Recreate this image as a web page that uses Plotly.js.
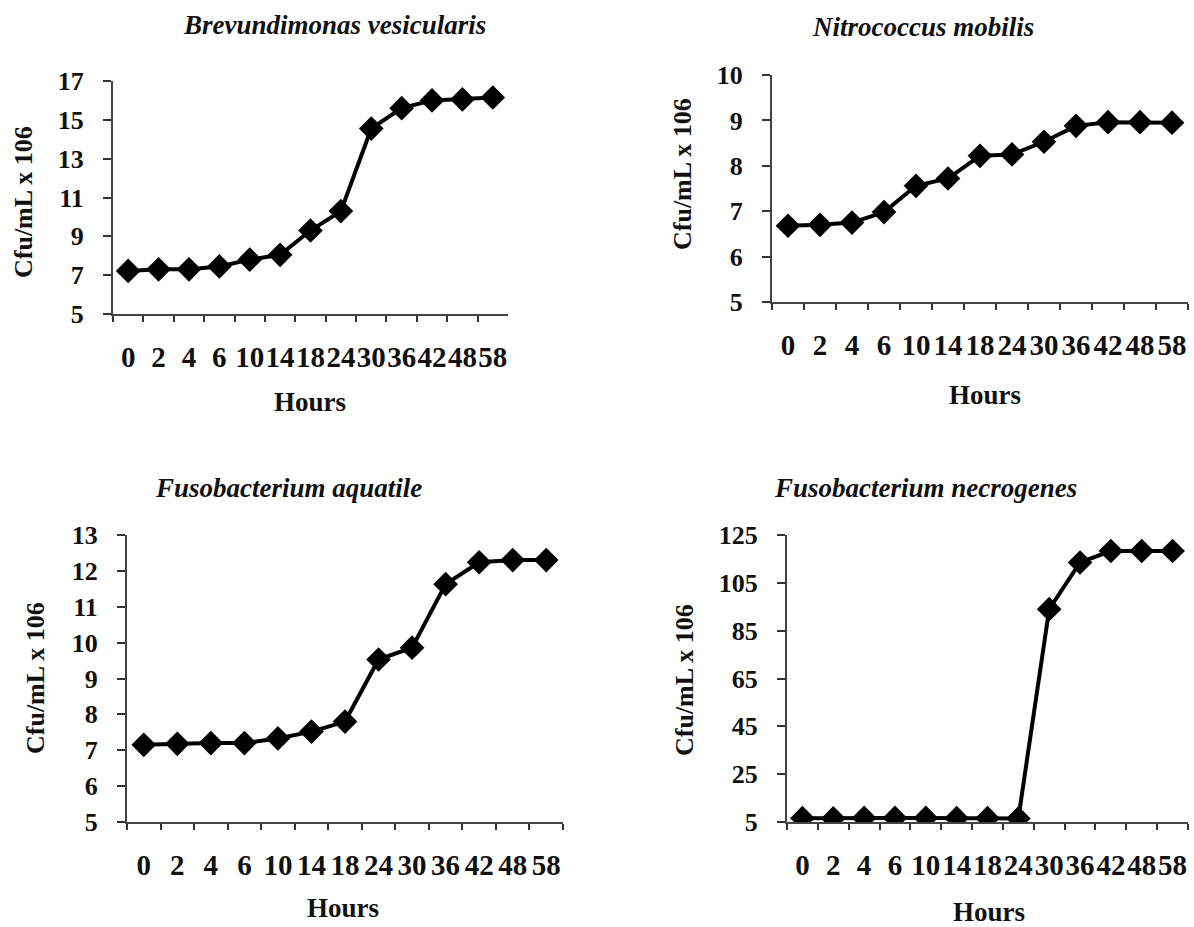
<!DOCTYPE html>
<html>
<head>
<meta charset="utf-8">
<script src="https://cdn.plot.ly/plotly-3.0.1.min.js"></script>
<style>
  html, body { margin: 0; padding: 0; background: #ffffff; }
  #chart { width: 1194px; height: 927px; }
</style>
</head>
<body>
<div id="chart"></div>
<script>
// ---- data ----
const hours = ['0', '2', '4', '6', '10', '14', '18', '24', '30', '36', '42', '48', '58'];
const brevundimonas = [7.22, 7.3, 7.3, 7.45, 7.8, 8.05, 9.3, 10.3, 14.55, 15.6, 16.0, 16.05, 16.15];
const nitrococcus = [6.68, 6.7, 6.75, 6.98, 7.56, 7.72, 8.22, 8.25, 8.53, 8.88, 8.96, 8.96, 8.95];
const aquatile = [7.15, 7.18, 7.2, 7.2, 7.33, 7.52, 7.8, 9.53, 9.86, 11.63, 12.24, 12.3, 12.3];
const necrogenes = [6.6, 6.5, 6.7, 6.7, 6.7, 6.6, 6.6, 6.5, 94, 113.5, 118.3, 118.3, 118.3];
const panelTitles = ['Brevundimonas vesicularis', 'Nitrococcus mobilis', 'Fusobacterium aquatile', 'Fusobacterium necrogenes'];
const yTitle = 'Cfu/mL x 106';
const xTitle = 'Hours';

const W = 1194, H = 927;
const serif = 'Liberation Serif, Times New Roman, serif';
const px = v => v / W;
const py = v => 1 - v / H;

function trace(y, xa, ya) {
  return {
    x: hours, y: y, xaxis: xa, yaxis: ya, type: 'scatter', mode: 'lines+markers',
    line: {color: '#000000', width: 4},
    marker: {symbol: 'diamond', size: 19, color: '#000000'},
    showlegend: false, hoverinfo: 'x+y'
  };
}

function xaxis(l, r, anchor) {
  return {
    domain: [px(l), px(r)], anchor: anchor, type: 'category',
    range: [-0.5, 12.5], tickson: 'boundaries', ticks: 'outside', ticklen: 6, tickwidth: 2,
    tickmode: 'array', tickvals: hours, ticktext: hours, tickangle: 0,
    tickcolor: '#333', showline: true, linecolor: '#444', linewidth: 2,
    showgrid: false, zeroline: false, ticklabelstandoff: 16,
    tickfont: {family: serif, size: 29, color: '#111', weight: 'bold'},
    fixedrange: true
  };
}
function yaxis(t, b, anchor, lo, hi, dt) {
  return {
    domain: [py(b), py(t)], anchor: anchor, range: [lo, hi], dtick: dt, tick0: lo,
    ticks: 'outside', ticklen: 8, tickwidth: 2, tickcolor: '#333',
    showline: true, linecolor: '#444', linewidth: 2, showgrid: false, zeroline: false,
    ticklabelstandoff: 14,
    tickfont: {family: serif, size: 26, color: '#111', weight: 'bold'},
    fixedrange: true
  };
}

function ann(text, x, y, size, italic, angle) {
  return {
    text: text, xref: 'paper', yref: 'paper', x: px(x), y: py(y),
    xanchor: 'center', yanchor: 'middle', showarrow: false, textangle: angle || 0,
    font: {family: serif, size: size, color: '#111', weight: 'bold', style: italic ? 'italic' : 'normal'}
  };
}

const data = [
  trace(brevundimonas, 'x', 'y'),
  trace(nitrococcus, 'x2', 'y2'),
  trace(aquatile, 'x3', 'y3'),
  trace(necrogenes, 'x4', 'y4')
];

const layout = {
  width: W, height: H, margin: {l: 0, r: 0, t: 0, b: 0},
  paper_bgcolor: '#ffffff', plot_bgcolor: '#ffffff',
  xaxis: xaxis(113, 508, 'y'),
  yaxis: yaxis(81, 314, 'x', 5, 17, 2),
  xaxis2: xaxis(772, 1188, 'y2'),
  yaxis2: yaxis(75, 302, 'x2', 5, 10, 1),
  xaxis3: xaxis(127, 563, 'y3'),
  yaxis3: yaxis(535, 822, 'x3', 5, 13, 1),
  xaxis4: xaxis(787, 1188, 'y4'),
  yaxis4: yaxis(535, 822, 'x4', 5, 125, 20),
  annotations: [
    ann(panelTitles[0], 334, 25, 27, true),
    ann(panelTitles[1], 923, 27, 27, true),
    ann(panelTitles[2], 288, 488, 27, true),
    ann(panelTitles[3], 925, 488, 27, true),
    ann(yTitle, 23, 202, 26, false, -90),
    ann(yTitle, 682, 174, 26, false, -90),
    ann(yTitle, 35, 678, 26, false, -90),
    ann(yTitle, 684, 680, 26, false, -90),
    ann(xTitle, 310, 402, 27, false),
    ann(xTitle, 985, 395, 27, false),
    ann(xTitle, 343, 908, 27, false),
    ann(xTitle, 989, 912, 27, false)
  ]
};

Plotly.newPlot('chart', data, layout, {displayModeBar: false, staticPlot: true});
</script>
</body>
</html>
